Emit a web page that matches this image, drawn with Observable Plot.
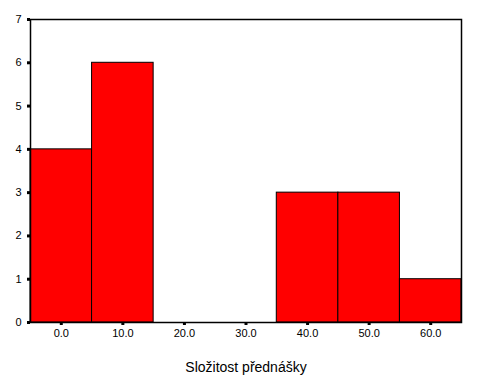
<!DOCTYPE html>
<html><head><meta charset="utf-8">
<script src="https://cdn.jsdelivr.net/npm/d3@7"></script>
<script src="https://cdn.jsdelivr.net/npm/@observablehq/plot@0.6"></script>
<style>
html,body{margin:0;padding:0;background:#fff;}
svg{font-family:"Liberation Sans",Arial,sans-serif;}
</style>
</head><body>
<div id="chart"></div>
<script>
const binCenters = [0, 10, 20, 30, 40, 50, 60];
const counts = [4, 6, 0, 0, 3, 3, 1];
const binWidth = 10;
const yTicks = [0, 1, 2, 3, 4, 5, 6, 7];
const xLabel = "Složitost přednášky";

const data = binCenters.map((c, i) => ({x1: c - binWidth / 2, x2: c + binWidth / 2, y: counts[i]}))
  .filter(d => d.y > 0);

const chart = Plot.plot({
  width: 480,
  height: 384,
  marginLeft: 30,
  marginRight: 19,
  marginTop: 19,
  marginBottom: 62,
  style: {fontFamily: '"Liberation Sans", Arial, sans-serif', fontSize: "11px", background: "#fff"},
  x: {domain: [-5, 65]},
  y: {domain: [0, 7]},
  marks: [
    Plot.rectY(data, {x1: "x1", x2: "x2", y: "y", fill: "#ff0000", stroke: "#000", strokeWidth: 1}),
    Plot.frame({stroke: "#000", strokeWidth: 1.5}),
    Plot.axisY(yTicks, {tickSize: 3, strokeWidth: 3, tickPadding: 6, tickFormat: d3.format("d"), label: null, fontSize: 11}),
    Plot.axisX(binCenters, {tickSize: 3, strokeWidth: 3, tickPadding: 4, tickFormat: d3.format(".1f"), label: null, fontSize: 11}),
    Plot.text([xLabel], {frameAnchor: "bottom", dy: 49, text: d => d, fontSize: 14, fill: "#000"})
  ]
});
document.getElementById("chart").appendChild(chart);
</script>
</body></html>
